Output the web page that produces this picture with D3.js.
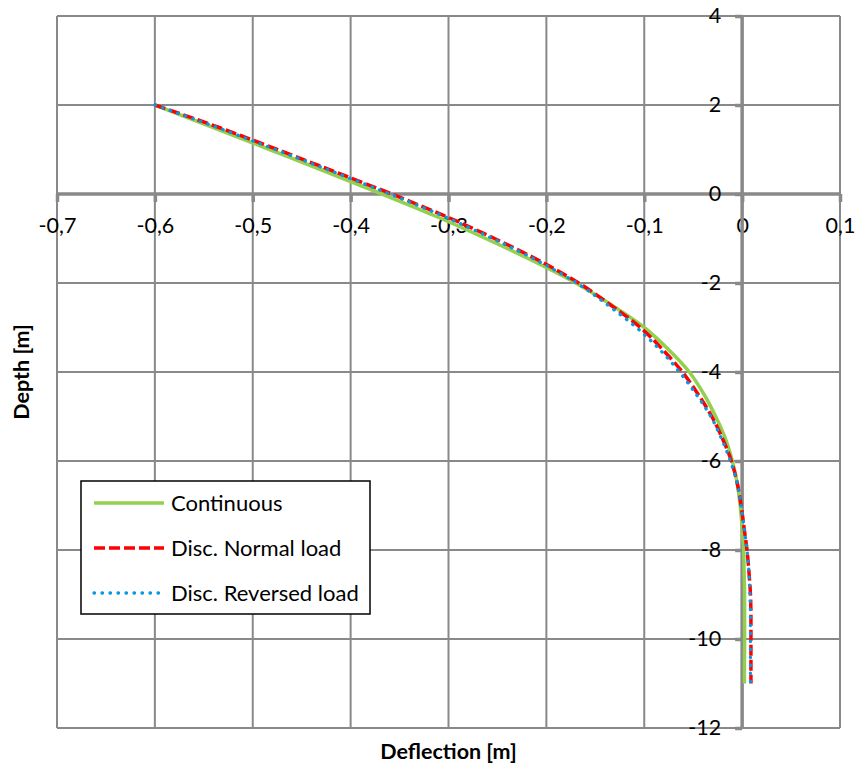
<!DOCTYPE html>
<html>
<head>
<meta charset="utf-8">
<style>
  body { margin: 0; background: #fff; }
  svg { display: block; font-family: Lato, "Open Sans", sans-serif; }
</style>
</head>
<body>
<svg width="855" height="766"></svg>
<script src="https://d3js.org/d3.v7.min.js"></script>
<script>

// depth [m], shared by all three series
var depth = [2, 1.5, 1, 0.5, 0, -0.5, -1, -1.5, -2, -2.5, -3, -3.5, -4, -4.5, -5,
             -5.5, -6, -6.5, -7, -7.5, -8, -8.5, -9, -9.5, -10, -10.5, -11];

// deflection [m]
var continuous = [-0.600, -0.541, -0.483, -0.425, -0.368, -0.313, -0.262, -0.214, -0.170,
                  -0.133, -0.100, -0.075, -0.054, -0.039, -0.027, -0.017, -0.010, -0.005,
                  -0.002, 0.000, 0.0015, 0.002, 0.0025, 0.0025, 0.0025, 0.0024, 0.0023];
var normalLoad = [-0.600, -0.535, -0.475, -0.416, -0.358, -0.303, -0.253, -0.207, -0.167,
                  -0.134, -0.104, -0.081, -0.061, -0.045, -0.031, -0.020, -0.011, -0.005,
                  -0.001, 0.002, 0.005, 0.007, 0.0085, 0.009, 0.009, 0.009, 0.009];
var reversedLoad = [-0.600, -0.537, -0.477, -0.418, -0.360, -0.305, -0.255, -0.209, -0.169,
                    -0.137, -0.108, -0.084, -0.064, -0.047, -0.032, -0.021, -0.012, -0.005,
                    -0.001, 0.002, 0.005, 0.007, 0.008, 0.0085, 0.0085, 0.0085, 0.0085];

var xTicks = [-0.7, -0.6, -0.5, -0.4, -0.3, -0.2, -0.1, 0, 0.1];
var yTicks = [-12, -10, -8, -6, -4, -2, 0, 2, 4];

var series = [
  { name: "Continuous", values: continuous, color: "#92D050", dash: null, cap: "butt" },
  { name: "Disc. Normal load", values: normalLoad, color: "#FF0000", dash: "11,4", cap: "butt" },
  { name: "Disc. Reversed load", values: reversedLoad, color: "#0A96E0", dash: "0.5,7.5", cap: "round" }
];

var svg = d3.select("svg");
var gridColor = "#898989";

var x = d3.scaleLinear().domain([-0.7, 0.1]).range([57, 840]);
var y = d3.scaleLinear().domain([-12, 4]).range([728, 16]);

var fmt = function(d) { return d === 0 ? "0" : d3.format(".1f")(d).replace(".", ",").replace("−", "-"); };

// grid
svg.append("g").selectAll("line").data(xTicks).enter().append("line")
    .attr("x1", function(d) { return x(d); }).attr("x2", function(d) { return x(d); })
    .attr("y1", y(4)).attr("y2", y(-12))
    .attr("stroke", gridColor).attr("stroke-width", 2);
svg.append("g").selectAll("line").data(yTicks).enter().append("line")
    .attr("y1", function(d) { return y(d); }).attr("y2", function(d) { return y(d); })
    .attr("x1", x(-0.7)).attr("x2", x(0.1))
    .attr("stroke", gridColor).attr("stroke-width", 2);

// axes through the origin
var gx = svg.append("g")
    .attr("transform", "translate(0," + y(0) + ")")
    .call(d3.axisBottom(x).tickValues(xTicks).tickFormat(fmt).tickSize(8).tickPadding(16));
var gy = svg.append("g")
    .attr("transform", "translate(" + x(0) + ",0)")
    .call(d3.axisLeft(y).tickValues(yTicks).tickFormat(function(d) { return String(d); }).tickSize(7).tickPadding(14));

[gx, gy].forEach(function(g) {
  g.attr("font-family", null).attr("font-size", null);
  g.select(".domain").attr("stroke", gridColor).attr("stroke-width", 3.5);
  g.selectAll(".tick line").attr("stroke", gridColor).attr("stroke-width", 3.5);
  g.selectAll(".tick text").attr("fill", "#000").style("font-size", "21.5px");
});
gx.select(".domain").attr("d", "M" + x(-0.7) + ",0H" + x(0.1));
gy.select(".domain").attr("d", "M0," + y(4) + "V" + y(-12));

// curves
var line = d3.line()
    .x(function(d) { return x(d[0]); })
    .y(function(d) { return y(d[1]); })
    .curve(d3.curveMonotoneY);

series.forEach(function(s) {
  svg.append("path")
      .datum(s.values.map(function(v, i) { return [v, depth[i]]; }))
      .attr("d", line)
      .attr("fill", "none")
      .attr("stroke", s.color)
      .attr("stroke-width", s.cap === "round" ? 3.3 : 3.5)
      .attr("stroke-dasharray", s.dash)
      .attr("stroke-linecap", s.cap);
});

// legend
var legend = svg.append("g").attr("transform", "translate(81,481)");
legend.append("rect")
    .attr("width", 289).attr("height", 133)
    .attr("fill", "#fff").attr("stroke", "#000").attr("stroke-width", 1.5);
series.forEach(function(s, i) {
  var cy = 22 + i * 45;
  legend.append("line")
      .attr("x1", 13).attr("x2", 83).attr("y1", cy).attr("y2", cy)
      .attr("stroke", s.color)
      .attr("stroke-width", s.cap === "round" ? 3.3 : 3.5)
      .attr("stroke-dasharray", s.dash)
      .attr("stroke-linecap", s.cap);
  legend.append("text")
      .attr("x", 90).attr("y", cy).attr("dy", "0.35em")
      .style("font-size", "22px")
      .text(s.name);
});

// axis titles
svg.append("text")
    .attr("x", (x(-0.7) + x(0.1)) / 2).attr("y", 759)
    .attr("text-anchor", "middle")
    .style("font-size", "21.5px").style("font-weight", "bold")
    .text("Deflection [m]");
svg.append("text")
    .attr("transform", "translate(29," + (y(4) + y(-12)) / 2 + ") rotate(-90)")
    .attr("text-anchor", "middle")
    .style("font-size", "21.5px").style("font-weight", "bold")
    .text("Depth [m]");

</script>
</body>
</html>
